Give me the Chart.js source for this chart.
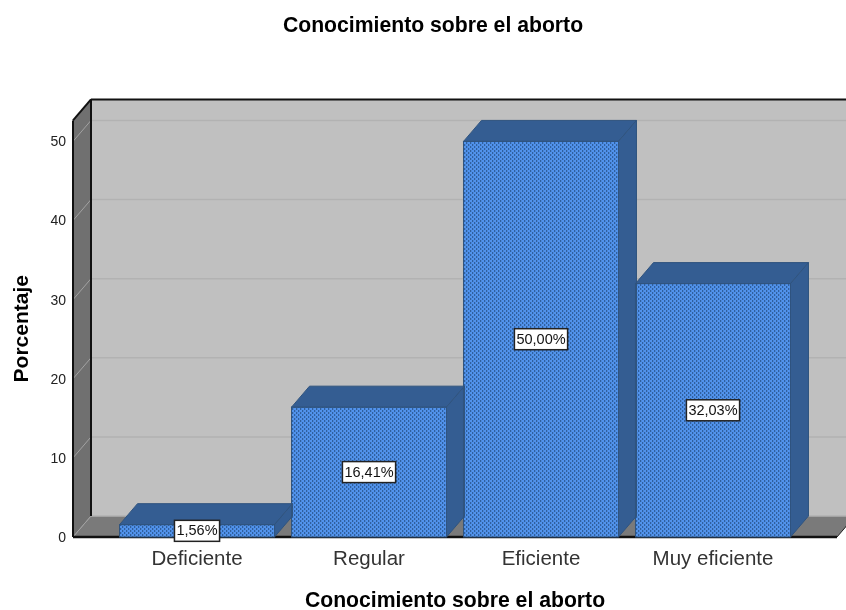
<!DOCTYPE html>
<html>
<head>
<meta charset="utf-8">
<title>Conocimiento sobre el aborto</title>
<script src="https://cdn.jsdelivr.net/npm/chart.js@4"></script>
<style>
    body { margin: 0; background: #fff; overflow: hidden; }
    #wrap { width: 846px; height: 610px; }
</style>
</head>
<body>
<div id="wrap"><canvas id="myChart" width="846" height="610"></canvas></div>
<script>
const categories = ['Deficiente', 'Regular', 'Eficiente', 'Muy eficiente'];
const porcentajes = [1.56, 16.41, 50.00, 32.03];
const chartTitle = 'Conocimiento sobre el aborto';
const yTitle = 'Porcentaje';

// how far the back wall sits from the front plane, in px
const depthX = 18;
const depthY = 21;
const fontName = '"Liberation Sans", Arial, sans-serif';

function dotPattern() {
    const c = document.createElement('canvas');
    c.width = 4;
    c.height = 4;
    const p = c.getContext('2d');
    p.fillStyle = '#5193ec';
    p.fillRect(0, 0, 4, 4);
    p.fillStyle = '#2f609f';
    p.fillRect(0, 0, 1, 2);
    p.fillRect(2, 2, 1, 2);
    p.fillStyle = '#4a85d6';
    p.fillRect(1, 0, 1, 2);
    p.fillRect(3, 2, 1, 2);
    return p.createPattern(c, 'repeat');
}

function poly(ctx, pts, fill, stroke) {
    ctx.beginPath();
    pts.forEach((pt, i) => i ? ctx.lineTo(pt[0], pt[1]) : ctx.moveTo(pt[0], pt[1]));
    ctx.closePath();
    if (fill) {
        ctx.fillStyle = fill;
        ctx.fill();
    }
    if (stroke) {
        ctx.strokeStyle = stroke;
        ctx.lineWidth = 1;
        ctx.stroke();
    }
}

function line(ctx, x1, y1, x2, y2, color, width) {
    ctx.beginPath();
    ctx.moveTo(x1, y1);
    ctx.lineTo(x2, y2);
    ctx.strokeStyle = color;
    ctx.lineWidth = width;
    ctx.stroke();
}

// back wall, left wall, floor and the grid on them
const walls = {
    id: 'walls',
    afterLayout(chart) {
        chart.titleBlock.left = 29;
    },
    beforeDatasetsDraw(chart) {
        const ctx = chart.ctx;
        const { left, right, top, bottom } = chart.chartArea;
        const dx = depthX, dy = depthY;
        ctx.save();
        poly(ctx, [[left + dx, top - dy], [right + dx, top - dy], [right + dx, bottom - dy], [left + dx, bottom - dy]], '#c0c0c0');
        poly(ctx, [[left, top], [left + dx, top - dy], [left + dx, bottom - dy], [left, bottom]], '#707070');
        poly(ctx, [[left, bottom], [left + dx, bottom - dy], [right + dx, bottom - dy], [right, bottom]], '#7a7a7a');
        chart.scales.y.ticks.forEach(t => {
            const y = chart.scales.y.getPixelForValue(t.value);
            line(ctx, left, y, left + dx, y - dy, '#a2a2a2', 1);
            line(ctx, left + dx, y - dy, right + dx, y - dy, '#b2b2b2', 1.5);
        });
        line(ctx, left + dx, top - dy, right + dx, top - dy, '#111', 2);
        line(ctx, left, top, left + dx, top - dy, '#111', 2);
        line(ctx, left + dx, top - dy, left + dx, bottom - dy, '#111', 2);
        line(ctx, left, top, left, bottom, '#111', 2);
        line(ctx, left, bottom, right, bottom, '#111', 2.5);
        line(ctx, right, bottom, right + dx, bottom - dy, '#222', 1);
        ctx.restore();
    },
    afterDatasetsDraw(chart) {
        const ctx = chart.ctx;
        ctx.save();
        chart.getDatasetMeta(0).data.forEach(bar => {
            const l = bar.x - bar.width / 2;
            const r = bar.x + bar.width / 2;
            const top = bar.y;
            const base = bar.base;
            poly(ctx, [[l, top], [l + depthX, top - depthY], [r + depthX, top - depthY], [r, top]], '#345d92', '#30547f');
            poly(ctx, [[r, top], [r + depthX, top - depthY], [r + depthX, base - depthY], [r, base]], '#345d92', '#30547f');
            ctx.strokeStyle = '#30547f';
            ctx.lineWidth = 1;
            ctx.strokeRect(l, top, bar.width, base - top);
        });
        ctx.restore();
    },
    afterDraw(chart) {
        // the value boxes go over everything, also over the axis line
        const ctx = chart.ctx;
        const y = chart.scales.y;
        ctx.save();
        ctx.font = '14.5px ' + fontName;
        ctx.textAlign = 'center';
        ctx.textBaseline = 'middle';
        chart.getDatasetMeta(0).data.forEach((bar, i) => {
            const txt = porcentajes[i].toFixed(2).replace('.', ',') + '%';
            const cy = y.getPixelForValue(porcentajes[i] / 2);
            const w = ctx.measureText(txt).width + 4;
            const h = 21;
            ctx.fillStyle = '#fff';
            ctx.fillRect(bar.x - w / 2, cy - h / 2, w, h);
            ctx.strokeStyle = '#222';
            ctx.lineWidth = 1.5;
            ctx.strokeRect(bar.x - w / 2, cy - h / 2, w, h);
            ctx.fillStyle = '#111';
            ctx.fillText(txt, bar.x, cy + 0.5);
        });
        ctx.restore();
    }
};

const ctx = document.getElementById('myChart').getContext('2d');
new Chart(ctx, {
    type: 'bar',
    data: {
        datasets: [{
            label: yTitle,
            data: porcentajes.map((v, i) => ({ x: i, y: v })),
            backgroundColor: dotPattern(),
            barThickness: 155
        }]
    },
    options: {
        responsive: false,
        animation: false,
        layout: { padding: { left: 10, right: 9, top: 0, bottom: 0 } },
        plugins: {
            legend: { display: false },
            tooltip: { enabled: false },
            title: {
                display: true,
                text: chartTitle,
                color: '#000',
                font: { family: fontName, size: 21.2, weight: 'bold' },
                padding: { top: 13, bottom: 82 }
            }
        },
        scales: {
            x: {
                type: 'linear',
                offset: false,
                min: -0.721,
                max: 3.721,
                afterBuildTicks: scale => { scale.ticks = categories.map((c, i) => ({ value: i })); },
                afterFit: scale => { scale.height = 73; },
                grid: { display: false, drawTicks: false },
                border: { display: false },
                ticks: {
                    callback: v => categories[v],
                    autoSkip: false,
                    maxRotation: 0,
                    padding: 10,
                    color: '#333',
                    font: { family: fontName, size: 20.5 }
                },
                title: {
                    display: true,
                    text: chartTitle,
                    color: '#000',
                    font: { family: fontName, size: 21.2, weight: 'bold' },
                    padding: { top: 0, bottom: -4 }
                }
            },
            y: {
                min: 0,
                max: 52.65,
                afterBuildTicks: scale => { scale.ticks = scale.ticks.filter(t => t.value % 10 === 0); },
                afterFit: scale => { scale.width = 63; },
                grid: { display: false, drawTicks: false },
                border: { display: false },
                ticks: {
                    stepSize: 10,
                    padding: 7,
                    labelOffset: 1,
                    color: '#222',
                    font: { family: fontName, size: 14 }
                },
                title: {
                    display: true,
                    text: yTitle,
                    color: '#000',
                    font: { family: fontName, size: 21, weight: 'bold' },
                    padding: { top: 0, bottom: 0 }
                }
            }
        }
    },
    plugins: [walls]
});
</script>
</body>
</html>
